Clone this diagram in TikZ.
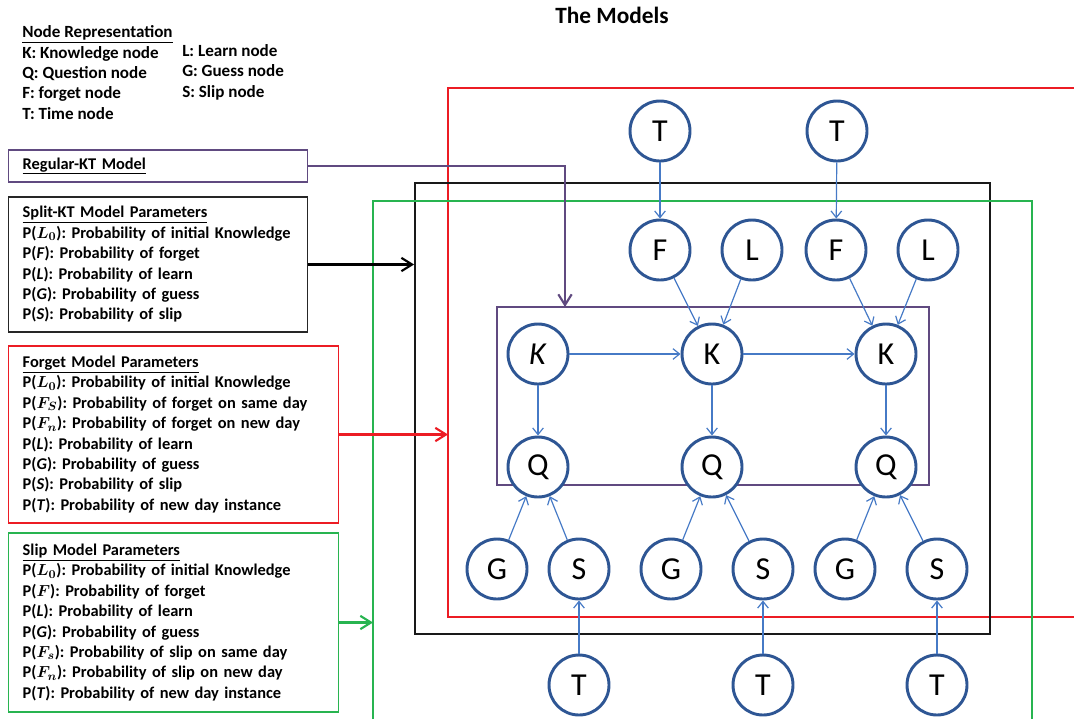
\documentclass[tikz,border=0pt]{standalone}
\usepackage{fontspec}
\setmainfont{Carlito}
\usepackage{tikz}
\usetikzlibrary{arrows.meta, positioning}
\definecolor{nodeblue}{RGB}{46, 86, 148}
\definecolor{edgeblue}{RGB}{70, 122, 198}
\definecolor{ktpurple}{RGB}{96, 74, 128}
\definecolor{forgetred}{RGB}{236, 28, 36}
\definecolor{slipgreen}{RGB}{40, 180, 80}
\frenchspacing
\tikzset{
    var/.style={circle, draw=nodeblue, fill=white, line width=2.2pt, minimum size=45pt, inner sep=0pt, font=\fontsize{24}{24}\selectfont},
    dep/.style={draw=edgeblue, line width=0.9pt, -{Straight Barb[length=5pt, width=8pt]}},
    legend/.style={anchor=west, align=left, inner sep=0pt, font=\bfseries\fontsize{12.8}{15.3}\selectfont},
    parbox/.style={draw, line width=1.1pt, anchor=west, align=left, inner xsep=10.5pt, inner ysep=0pt, font=\bfseries\boldmath\fontsize{12.3}{15.3}\selectfont},
    frame/.style={draw, line width=1.4pt, inner sep=0pt},
    link/.style={line width=1.6pt, -{Straight Barb[length=8pt, width=10pt]}}
}

\begin{document}
\begin{tikzpicture}[x=0.75pt, y=-0.75pt]
    \useasboundingbox (0,0) rectangle (1074,719);
    \node[font=\bfseries\fontsize{17.5}{19}\selectfont] (title) at (612,15) {The Models};

    % legend
    \node[legend] (legleft) at (22,72.5) {\underline{Node Representation}\\K: Knowledge node\\Q: Question node\\F: forget node\\T: Time node};
    \node[legend] (legright) at (182,72) {L: Learn node\\G: Guess node\\S: Slip node};

    % parameter boxes
    \node[parbox, draw=ktpurple, text width=203.25pt, minimum height=24pt] (regular) at (8,166) {\underline{Regular-KT Model}};
    \node[parbox, draw=black!85, text width=203.25pt, minimum height=101.25pt] (split) at (8,264.5) {\underline{Split-KT Model Parameters}\\
        P($L_0$): Probability of initial Knowledge\\
        P(\textit{F}): Probability of forget\\
        P(\textit{L}): Probability of learn\\
        P(\textit{G}): Probability of guess\\
        P(\textit{S}): Probability of slip};
    \node[parbox, draw=forgetred, text width=226.5pt, minimum height=132.75pt] (forget) at (8,434.5) {\underline{Forget Model Parameters}\\
        P($L_0$): Probability of initial Knowledge\\
        P($F_S$): Probability of forget on same day\\
        P($F_n$): Probability of forget on new day\\
        P(\textit{L}): Probability of learn\\
        P(\textit{G}): Probability of guess\\
        P(\textit{S}): Probability of slip\\
        P(\textit{T}): Probability of new day instance};
    \node[parbox, draw=slipgreen, text width=226.5pt, minimum height=134.25pt] (slip) at (8,622.5) {\underline{Slip Model Parameters}\\
        P($L_0$): Probability of initial Knowledge\\
        P($F$): Probability of forget\\
        P(\textit{L}): Probability of learn\\
        P(\textit{G}): Probability of guess\\
        P($F_s$): Probability of slip on same day\\
        P($F_n$): Probability of slip on new day\\
        P(\textit{T}): Probability of new day instance};

    % model frames
    \draw[forgetred, line width=1.3pt] (1074,88) -- (448,88) -- (448,617) -- (1074,617);
    \coordinate (forgetin) at (448,435);
    \node[frame, draw=black!90, minimum width=431.25pt, minimum height=338.25pt] (splitframe) at (702.5,408.5) {};
    \draw[slipgreen, line width=1.4pt] (373,719) -- (373,201) -- (1032,201) -- (1032,719);
    \coordinate (slipin) at (373,624);
    \node[frame, draw=ktpurple, line width=1.1pt, minimum width=324pt, minimum height=133.5pt] (ktframe) at (713,396) {};
    \coordinate (ktin) at (565,307);

    \draw[link, ktpurple] (regular.east) -| (ktin);
    \draw[link, black] (split.east) -- (split.east -| splitframe.west);
    \draw[link, forgetred] (forget.east) -- (forget.east -| forgetin);
    \draw[link, slipgreen] (slip.east) -- (slip.east -| slipin);

    % variables
    \node[var] (t1) at (660,131) {T};
    \node[var] (t2) at (837,131) {T};
    \node[var] (f1) at (660,250) {F};
    \node[var] (l1) at (752,250) {L};
    \node[var] (f2) at (836,250) {F};
    \node[var] (l2) at (928,250) {L};
    \node[var] (k1) at (538,354) {\textit{K}};
    \node[var] (k2) at (712,354) {K};
    \node[var] (k3) at (886,354) {K};
    \node[var] (q1) at (538,467) {Q};
    \node[var] (q2) at (712,467) {Q};
    \node[var] (q3) at (886,467) {Q};
    \node[var] (g1) at (497,569) {G};
    \node[var] (s1) at (579,569) {S};
    \node[var] (g2) at (671,569) {G};
    \node[var] (s2) at (763,569) {S};
    \node[var] (g3) at (845,569) {G};
    \node[var] (s3) at (937,569) {S};
    \node[var] (tb1) at (579,685) {T};
    \node[var] (tb2) at (763,685) {T};
    \node[var] (tb3) at (937,685) {T};

    \draw[dep] (t1) -- (f1);
    \draw[dep] (t2) -- (f2);
    \draw[dep] (f1) -- (k2);
    \draw[dep] (l1) -- (k2);
    \draw[dep] (f2) -- (k3);
    \draw[dep] (l2) -- (k3);
    \draw[dep] (k1) -- (k2);
    \draw[dep] (k2) -- (k3);
    \draw[dep] (k1) -- (q1);
    \draw[dep] (k2) -- (q2);
    \draw[dep] (k3) -- (q3);
    \draw[dep] (g1) -- (q1);
    \draw[dep] (s1) -- (q1);
    \draw[dep] (g2) -- (q2);
    \draw[dep] (s2) -- (q2);
    \draw[dep] (g3) -- (q3);
    \draw[dep] (s3) -- (q3);
    \draw[dep] (tb1) -- (s1);
    \draw[dep] (tb2) -- (s2);
    \draw[dep] (tb3) -- (s3);
\end{tikzpicture}
\end{document}
